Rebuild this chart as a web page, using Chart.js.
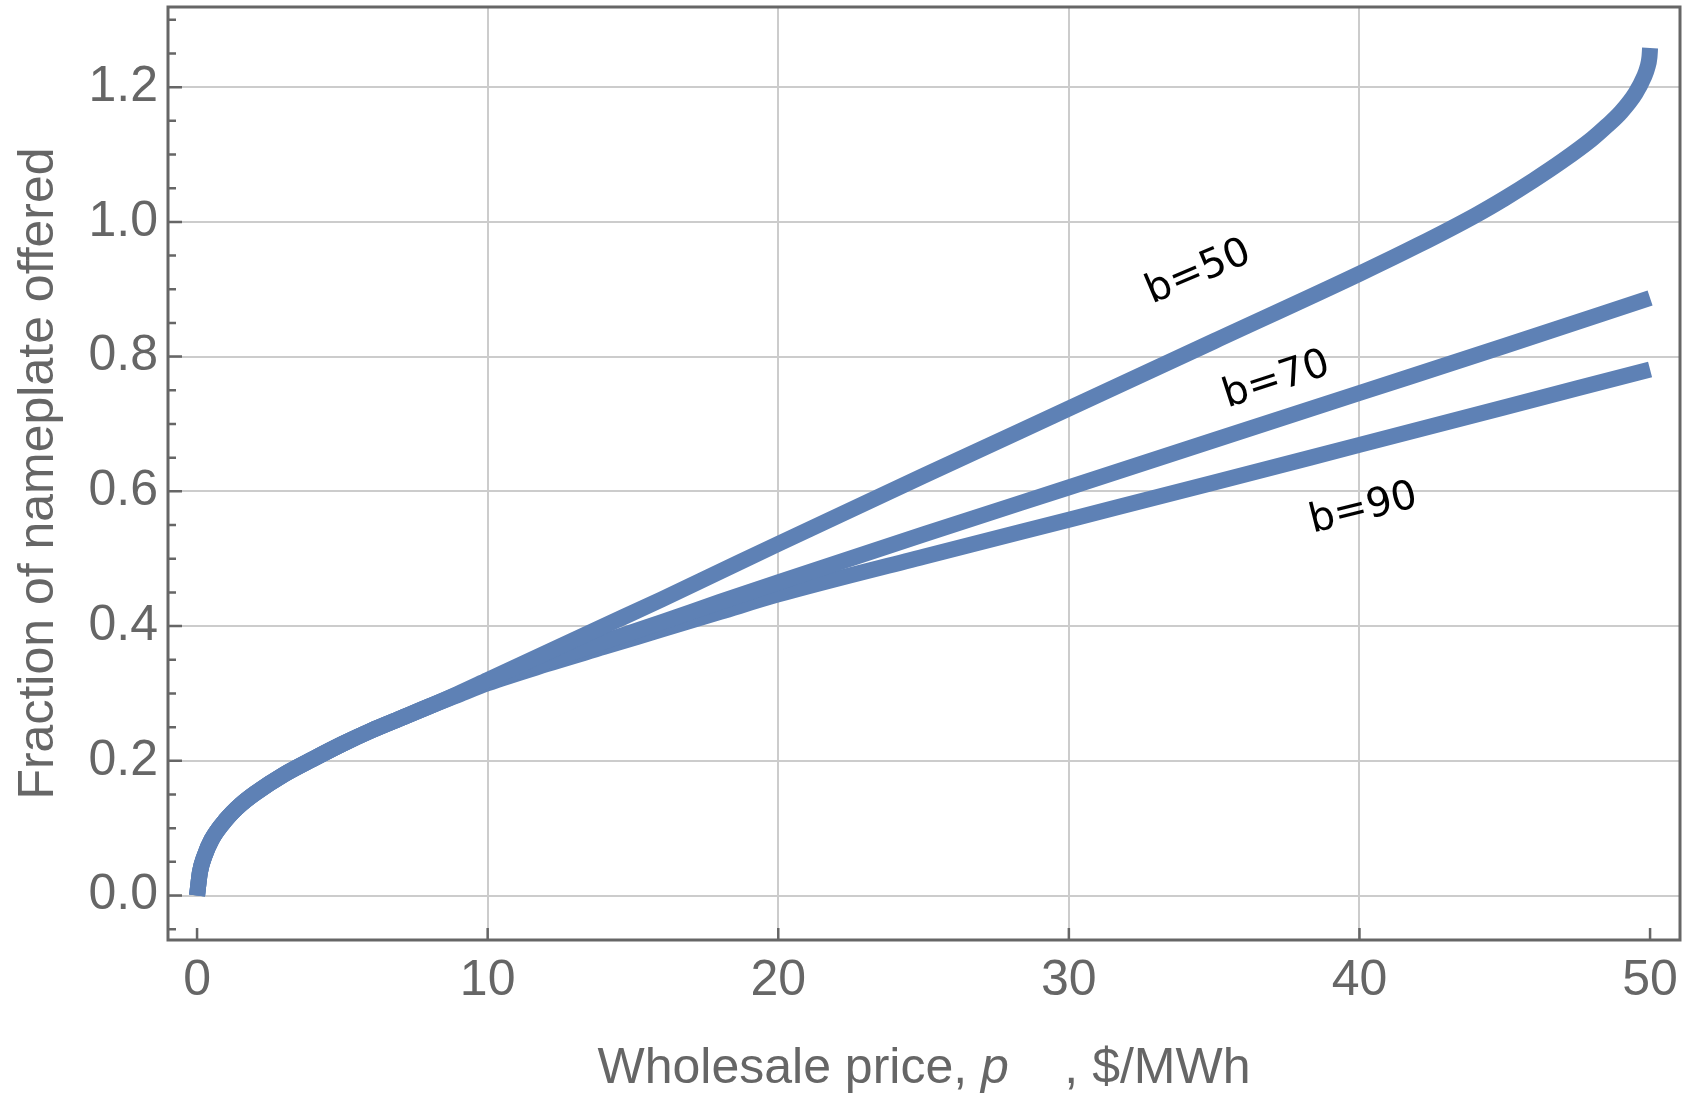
<!DOCTYPE html>
<html>
<head>
<meta charset="utf-8">
<title>Fraction of nameplate offered vs wholesale price</title>
<script src="https://cdn.jsdelivr.net/npm/chart.js@4.4.1/dist/chart.umd.min.js"></script>
<style>
  html, body { margin: 0; padding: 0; background: #ffffff; }
  #wrap { width: 1690px; height: 1093px; }
</style>
</head>
<body>
<div id="wrap"><canvas id="chart" width="1690" height="1093"></canvas></div>
<script>
// Offer curves: fraction of nameplate offered against wholesale price ($/MWh)
const price50 = [0, 0.1, 0.25, 0.5, 1, 1.5, 2, 3, 4, 5, 6, 7, 8, 9, 10, 12, 14, 16, 18, 20, 25, 30, 35, 40, 42, 44, 45, 46, 47, 48, 48.5, 49, 49.5, 49.8, 49.9, 49.98, 50];
const offered50 = [0, 0.035, 0.058, 0.083, 0.113, 0.135, 0.152, 0.180, 0.203, 0.225, 0.245, 0.263, 0.281, 0.300, 0.320, 0.360, 0.400, 0.440, 0.481, 0.522, 0.623, 0.723, 0.823, 0.923, 0.965, 1.010, 1.035, 1.062, 1.091, 1.123, 1.142, 1.163, 1.191, 1.216, 1.228, 1.245, 1.258];

const price70 = [0, 0.1, 0.25, 0.5, 1, 1.5, 2, 3, 4, 5, 6, 7, 8, 9, 10, 12, 14, 16, 18, 20, 25, 30, 35, 40, 45, 50];
const offered70 = [0, 0.035, 0.058, 0.083, 0.113, 0.135, 0.152, 0.180, 0.203, 0.225, 0.245, 0.263, 0.281, 0.299, 0.317, 0.347, 0.377, 0.406, 0.436, 0.465, 0.536, 0.606, 0.676, 0.746, 0.816, 0.887];

const price90 = [0, 0.1, 0.25, 0.5, 1, 1.5, 2, 3, 4, 5, 6, 7, 8, 9, 10, 12, 14, 16, 18, 20, 25, 30, 35, 40, 45, 50];
const offered90 = [0, 0.035, 0.058, 0.083, 0.113, 0.135, 0.152, 0.180, 0.203, 0.225, 0.245, 0.263, 0.281, 0.298, 0.315, 0.343, 0.369, 0.395, 0.421, 0.447, 0.503, 0.558, 0.613, 0.669, 0.725, 0.781];

// Axis ticks
const priceTicks = [0, 10, 20, 30, 40, 50];
const priceGridLines = [10, 20, 30, 40];
const fracTicks = [0, 0.2, 0.4, 0.6, 0.8, 1.0, 1.2];
const fracMinorTicks = [-0.05, 0.05, 0.1, 0.15, 0.25, 0.3, 0.35, 0.45, 0.5, 0.55, 0.65, 0.7, 0.75, 0.85, 0.9, 0.95, 1.05, 1.1, 1.15, 1.25, 1.3];

// Curve names written beside each line
const curveNames = ['b=50', 'b=70', 'b=90'];

// Placement of those names (data coordinates) and their tilt in degrees
const nameAnchors = [
  { x: 34.4, y: 0.931, angle: 23 },
  { x: 37.1, y: 0.771, angle: 18 },
  { x: 40.1, y: 0.580, angle: 14 }
];

const LINE_BLUE = '#5e81b5';
const INK = '#666666';
const GRID = '#cccccc';
const SANS = '"Liberation Sans", Arial, Helvetica, sans-serif';
const LABEL_FONT = '"DejaVu Sans", Verdana, sans-serif';

function toPoints(xs, ys) {
  return xs.map((x, i) => ({ x: x, y: ys[i] }));
}

function curve(name, xs, ys) {
  return {
    label: name,
    data: toPoints(xs, ys),
    borderColor: LINE_BLUE,
    backgroundColor: LINE_BLUE,
    borderWidth: 16,
    pointRadius: 0,
    pointHoverRadius: 0,
    fill: false,
    cubicInterpolationMode: 'monotone',
    borderCapStyle: 'butt',
    borderJoinStyle: 'round'
  };
}

// Frame, inward tick marks, curve names and axis titles
const frameAndTitles = {
  id: 'frameAndTitles',
  afterDatasetsDraw(chart) {
    const ctx = chart.ctx;
    const a = chart.chartArea;
    const xs = chart.scales.x;
    const ys = chart.scales.y;
    ctx.save();

    // tick marks pointing into the plot
    ctx.strokeStyle = INK;
    ctx.lineWidth = 2.5;
    ctx.beginPath();
    fracTicks.forEach(v => {
      const py = ys.getPixelForValue(v);
      ctx.moveTo(a.left, py);
      ctx.lineTo(a.left + 14, py);
    });
    fracMinorTicks.forEach(v => {
      const py = ys.getPixelForValue(v);
      ctx.moveTo(a.left, py);
      ctx.lineTo(a.left + 8, py);
    });
    priceTicks.forEach(v => {
      const px = xs.getPixelForValue(v);
      ctx.moveTo(px, a.bottom);
      ctx.lineTo(px, a.bottom - 12);
    });
    ctx.stroke();

    // frame
    ctx.lineWidth = 3;
    ctx.strokeRect(a.left, a.top, a.right - a.left, a.bottom - a.top);

    // curve names
    ctx.fillStyle = '#000000';
    ctx.font = '40px ' + LABEL_FONT;
    ctx.textAlign = 'center';
    ctx.textBaseline = 'alphabetic';
    nameAnchors.forEach((p, i) => {
      ctx.save();
      ctx.translate(xs.getPixelForValue(p.x), ys.getPixelForValue(p.y));
      ctx.rotate(-p.angle * Math.PI / 180);
      ctx.fillText(curveNames[i], 0, 15);
      ctx.restore();
    });

    // x-axis title with italic symbol
    ctx.fillStyle = INK;
    ctx.textAlign = 'left';
    const partA = 'Wholesale price, ';
    const partB = 'p';
    const partC = '    , $/MWh';
    const normal = '50px ' + SANS;
    const italic = 'italic 50px ' + SANS;
    ctx.font = normal;
    const wA = ctx.measureText(partA).width;
    const wC = ctx.measureText(partC).width;
    ctx.font = italic;
    const wB = ctx.measureText(partB).width;
    let tx = (a.left + a.right) / 2 - (wA + wB + wC) / 2;
    const baseY = 1083;
    ctx.font = normal;
    ctx.fillText(partA, tx, baseY);
    tx += wA;
    ctx.font = italic;
    ctx.fillText(partB, tx, baseY);
    tx += wB;
    ctx.font = normal;
    ctx.fillText(partC, tx, baseY);

    // y-axis title
    ctx.save();
    ctx.translate(53, (a.top + a.bottom) / 2);
    ctx.rotate(-Math.PI / 2);
    ctx.textAlign = 'center';
    ctx.font = normal;
    ctx.fillText('Fraction of nameplate offered', 0, 0);
    ctx.restore();

    ctx.restore();
  }
};

new Chart(document.getElementById('chart'), {
  type: 'line',
  data: {
    datasets: [
      curve('b=50', price50, offered50),
      curve('b=70', price70, offered70),
      curve('b=90', price90, offered90)
    ]
  },
  options: {
    responsive: false,
    devicePixelRatio: 1,
    animation: false,
    events: [],
    layout: { padding: { top: 7, right: 10, left: 0, bottom: 0 } },
    plugins: {
      legend: { display: false },
      tooltip: { enabled: false },
      title: { display: false }
    },
    scales: {
      x: {
        type: 'linear',
        min: -1,
        max: 51.03,
        afterFit(scale) {
          scale.height = 153;
          scale.paddingLeft = 0;
          scale.paddingRight = 0;
        },
        afterBuildTicks(scale) { scale.ticks = priceTicks.map(v => ({ value: v })); },
        border: { display: false },
        grid: {
          drawTicks: false,
          lineWidth: 2,
          color: c => (c.tick && priceGridLines.includes(c.tick.value)) ? GRID : 'rgba(0,0,0,0)'
        },
        ticks: {
          padding: 11,
          color: INK,
          maxRotation: 0,
          autoSkip: false,
          font: { family: SANS, size: 50 },
          callback: v => String(v)
        }
      },
      y: {
        type: 'linear',
        min: -0.066,
        max: 1.319,
        afterFit(scale) {
          scale.width = 168;
          scale.paddingTop = 0;
          scale.paddingBottom = 0;
        },
        afterBuildTicks(scale) { scale.ticks = fracTicks.map(v => ({ value: v })); },
        border: { display: false },
        grid: {
          drawTicks: false,
          lineWidth: 2,
          color: GRID
        },
        ticks: {
          padding: 10,
          color: INK,
          autoSkip: false,
          font: { family: SANS, size: 50 },
          callback: v => Number(v).toFixed(1)
        }
      }
    }
  },
  plugins: [frameAndTitles]
});
</script>
</body>
</html>
